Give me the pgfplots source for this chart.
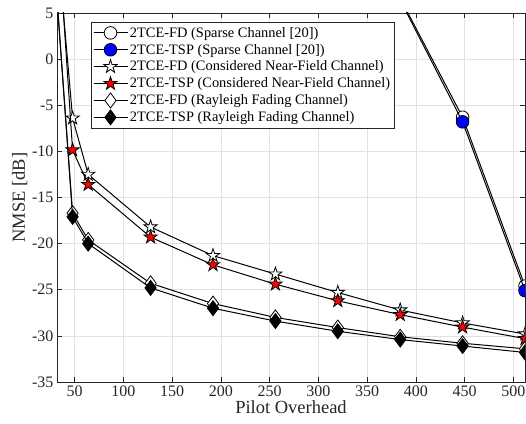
\documentclass[border=0pt]{standalone}
\usepackage{pgfplots}
\pgfplotsset{compat=1.18}
\usepackage{fontspec}
\setmainfont{Liberation Serif}

% five-pointed star marker (pentagram)
\pgfdeclareplotmark{pstar}{%
  \pgfpathmoveto{\pgfpointpolar{90}{\pgfplotmarksize}}%
  \pgfpathlineto{\pgfpointpolar{126}{0.382\pgfplotmarksize}}%
  \pgfpathlineto{\pgfpointpolar{162}{\pgfplotmarksize}}%
  \pgfpathlineto{\pgfpointpolar{198}{0.382\pgfplotmarksize}}%
  \pgfpathlineto{\pgfpointpolar{234}{\pgfplotmarksize}}%
  \pgfpathlineto{\pgfpointpolar{270}{0.382\pgfplotmarksize}}%
  \pgfpathlineto{\pgfpointpolar{306}{\pgfplotmarksize}}%
  \pgfpathlineto{\pgfpointpolar{342}{0.382\pgfplotmarksize}}%
  \pgfpathlineto{\pgfpointpolar{18}{\pgfplotmarksize}}%
  \pgfpathlineto{\pgfpointpolar{54}{0.382\pgfplotmarksize}}%
  \pgfpathclose
  \pgfusepathqfillstroke
}

\definecolor{axgray}{RGB}{38,38,38}
\definecolor{gridgray}{RGB}{225,225,225}

\pgfplotstableread{
x    sfd    stsp
384  6.6    6.4
448  -6.3   -6.8
512  -24.6  -25.1
}\sparse

\pgfplotstableread{
x    nfd    ntsp   rfd    rtsp
32   13.0   15.4   6.5    6.6
48   -6.4   -9.85  -16.7  -17.1
64   -12.5  -13.6  -19.6  -20.0
128  -18.2  -19.3  -24.3  -24.8
192  -21.3  -22.3  -26.5  -27.0
256  -23.3  -24.4  -28.0  -28.4
320  -25.3  -26.2  -29.1  -29.5
384  -27.2  -27.7  -30.1  -30.4
448  -28.6  -29.05 -30.8  -31.1
512  -29.8  -30.3  -31.4  -31.8
}\nearfield

\begin{document}
\begin{tikzpicture}
\begin{axis}[
  scale only axis,
  width=468pt, height=369pt,
  xmin=32, xmax=512, ymin=-35, ymax=5,
  xtick={50,100,...,500},
  ytick={-35,-30,...,5},
  tick align=inside,
  major tick length=5pt,
  axis line style={axgray, line width=0.6pt},
  tick style={axgray, line width=0.6pt},
  grid=major,
  major grid style={gridgray, line width=0.6pt},
  ticklabel style={font=\fontsize{16}{18}\selectfont, text=axgray},
  /pgf/number format/assume math mode=true,
  xlabel={Pilot Overhead},
  ylabel={NMSE [dB]},
  label style={font=\fontsize{18.5}{20}\selectfont, text=axgray},
  xlabel style={yshift=3pt},
  ylabel style={yshift=-2pt},
  clip marker paths=true,
  legend cell align=left,
  legend style={
    at={(0.072,0.976)}, anchor=north west,
    font=\fontsize{14.4}{16}\selectfont,
    draw=axgray, line width=0.6pt,
    inner xsep=2pt, inner ysep=3pt,
    row sep=1.4pt,
  },
  legend image code/.code={%
    \draw[mark repeat=2, mark phase=2] plot coordinates {(0pt,0pt) (17pt,0pt) (34pt,0pt)};%
  },
  every axis plot/.append style={line width=1pt, black},
]
\addplot[mark=*, mark size=6.3pt, mark options={fill=white, line width=0.8pt}]
  table[x=x, y=sfd] {\sparse};
\addlegendentry{2TCE-FD (Sparse Channel [20])}
\addplot[mark=*, mark size=6.3pt, mark options={fill=blue, line width=0.8pt}]
  table[x=x, y=stsp] {\sparse};
\addlegendentry{2TCE-TSP (Sparse Channel [20])}
\addplot[mark=pstar, mark size=7pt, mark options={fill=white, line width=0.8pt}]
  table[x=x, y=nfd] {\nearfield};
\addlegendentry{2TCE-FD (Considered Near-Field Channel)}
\addplot[mark=pstar, mark size=7pt, mark options={fill=red, line width=0.8pt}]
  table[x=x, y=ntsp] {\nearfield};
\addlegendentry{2TCE-TSP (Considered Near-Field Channel)}
\addplot[mark=diamond*, mark size=7.5pt, mark options={fill=white, line width=0.8pt}]
  table[x=x, y=rfd] {\nearfield};
\addlegendentry{2TCE-FD (Rayleigh Fading Channel)}
\addplot[mark=diamond*, mark size=7.5pt, mark options={fill=black, line width=0.8pt}]
  table[x=x, y=rtsp] {\nearfield};
\addlegendentry{2TCE-TSP (Rayleigh Fading Channel)}
\end{axis}
\pgfresetboundingbox
\path ([shift={(-57pt,-42pt)}]current axis.south west) rectangle ([shift={(1pt,13pt)}]current axis.north east);
\end{tikzpicture}
\end{document}
